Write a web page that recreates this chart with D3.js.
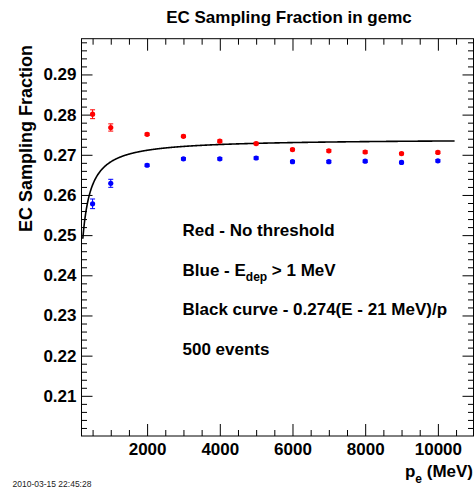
<!DOCTYPE html>
<html>
<head>
<meta charset="utf-8">
<script src="https://cdn.jsdelivr.net/npm/d3@7"></script>
<style>
  body { margin: 0; background: #fff; }
  svg { display: block; font-family: "Liberation Sans", Arial, sans-serif; font-weight: bold; }
</style>
</head>
<body>
<div id="chart"></div>
<script>
// momentum points (MeV)
const energies = [500, 1000, 2000, 3000, 4000, 5000, 6000, 7000, 8000, 9000, 10000];
// red: no threshold
const redValues = [0.2801, 0.2768, 0.2751, 0.2746, 0.2734, 0.2728, 0.2713, 0.2710, 0.2707, 0.2703, 0.2706];
const redErrors = [0.0011, 0.0009, 0.0003, 0.0003, 0.0003, 0.0003, 0.0003, 0.0003, 0.0003, 0.0003, 0.0003];
// blue: E_dep > 1 MeV
const blueValues = [0.2578, 0.2629, 0.2674, 0.2690, 0.2690, 0.2692, 0.2683, 0.2683, 0.2684, 0.2681, 0.2685];
const blueErrors = [0.0012, 0.0010, 0.0003, 0.0003, 0.0003, 0.0003, 0.0003, 0.0003, 0.0003, 0.0003, 0.0003];
// black curve parameters: 0.274 (E - 21) / E
const curveScale = 0.274;
const curveOffset = 21;
const curveRange = [231, 10460];

const xTicks = [2000, 4000, 6000, 8000, 10000];
const yTicks = [0.21, 0.22, 0.23, 0.24, 0.25, 0.26, 0.27, 0.28, 0.29];

const legendLines = ["Red - No threshold", "Blue - E|dep| > 1 MeV", "Black curve - 0.274(E - 21 MeV)/p", "500 events"];

const width = 475;
const height = 489;
const frame = { left: 81.5, right: 473.5, top: 38.7, bottom: 436 };

const svg = d3.select("#chart").append("svg")
  .attr("width", width)
  .attr("height", height);

const x = d3.scaleLinear().domain([195, 10980]).range([frame.left, frame.right]);
const y = d3.scaleLinear().domain([0.2, 0.2989]).range([frame.bottom, frame.top]);

const xMinor = d3.range(500, 10980, 500).filter(v => !xTicks.includes(v));
const yMinor = d3.range(0.202, 0.2989, 0.002).filter(v => !yTicks.some(t => Math.abs(t - v) < 1e-6));

function tickStyle(g) {
  g.select(".domain").remove();
  g.selectAll("line").attr("stroke", "#000").attr("stroke-width", 1);
}

// minor ticks first
svg.append("g").attr("transform", `translate(0,${frame.bottom})`)
  .call(d3.axisBottom(x).tickValues(xMinor).tickSize(-6).tickFormat(""))
  .call(tickStyle);
svg.append("g").attr("transform", `translate(0,${frame.top})`)
  .call(d3.axisTop(x).tickValues(xMinor).tickSize(-6).tickFormat(""))
  .call(tickStyle);
svg.append("g").attr("transform", `translate(${frame.left},0)`)
  .call(d3.axisLeft(y).tickValues(yMinor).tickSize(-5.5).tickFormat(""))
  .call(tickStyle);
svg.append("g").attr("transform", `translate(${frame.right},0)`)
  .call(d3.axisRight(y).tickValues(yMinor).tickSize(-5.5).tickFormat(""))
  .call(tickStyle);

// major ticks
svg.append("g").attr("transform", `translate(0,${frame.bottom})`)
  .call(d3.axisBottom(x).tickValues(xTicks).tickSize(-12).tickPadding(7).tickFormat(d3.format("d")))
  .call(tickStyle)
  .call(g => g.selectAll("text").attr("font-size", 17).attr("fill", "#000").attr("font-family", null));
svg.append("g").attr("transform", `translate(0,${frame.top})`)
  .call(d3.axisTop(x).tickValues(xTicks).tickSize(-12).tickFormat(""))
  .call(tickStyle);
svg.append("g").attr("transform", `translate(${frame.left},0)`)
  .call(d3.axisLeft(y).tickValues(yTicks).tickSize(-11).tickPadding(5).tickFormat(d3.format(".2f")))
  .call(tickStyle)
  .call(g => g.selectAll("text").attr("font-size", 17).attr("fill", "#000").attr("font-family", null));
svg.append("g").attr("transform", `translate(${frame.right},0)`)
  .call(d3.axisRight(y).tickValues(yTicks).tickSize(-11).tickFormat(""))
  .call(tickStyle);

// frame
svg.append("rect")
  .attr("x", frame.left).attr("y", frame.top)
  .attr("width", frame.right - frame.left).attr("height", frame.bottom - frame.top)
  .attr("fill", "none").attr("stroke", "#000").attr("stroke-width", 1);

// black curve
const curveE = d3.range(curveRange[0], curveRange[1], 10).concat([curveRange[1]]);
svg.append("path")
  .datum(curveE)
  .attr("fill", "none")
  .attr("stroke", "#000")
  .attr("stroke-width", 1.6)
  .attr("d", d3.line().x(e => x(e)).y(e => y(curveScale * (e - curveOffset) / e)));

function drawSeries(values, errors, color) {
  const data = energies.map((e, i) => ({ e, v: values[i], err: errors[i] }));
  const g = svg.append("g");
  g.selectAll("line.bar").data(data).join("line")
    .attr("x1", d => x(d.e)).attr("x2", d => x(d.e))
    .attr("y1", d => y(d.v - d.err)).attr("y2", d => y(d.v + d.err))
    .attr("stroke", color).attr("stroke-width", 1);
  g.selectAll("line.cap-hi").data(data).join("line")
    .attr("x1", d => x(d.e) - 2.5).attr("x2", d => x(d.e) + 2.5)
    .attr("y1", d => y(d.v + d.err)).attr("y2", d => y(d.v + d.err))
    .attr("stroke", color).attr("stroke-width", 1);
  g.selectAll("line.cap-lo").data(data).join("line")
    .attr("x1", d => x(d.e) - 2.5).attr("x2", d => x(d.e) + 2.5)
    .attr("y1", d => y(d.v - d.err)).attr("y2", d => y(d.v - d.err))
    .attr("stroke", color).attr("stroke-width", 1);
  g.selectAll("circle").data(data).join("circle")
    .attr("cx", d => x(d.e)).attr("cy", d => y(d.v))
    .attr("r", 2.6).attr("fill", color);
}
drawSeries(redValues, redErrors, "#ff0000");
drawSeries(blueValues, blueErrors, "#0000ff");

// legend text
const legend = svg.append("g").attr("font-size", 17);
legendLines.forEach((line, i) => {
  const t = legend.append("text")
    .attr("x", 182.5)
    .attr("y", 236 + i * 39.7);
  const parts = line.split("|");
  t.append("tspan").text(parts[0]);
  if (parts.length > 1) {
    t.append("tspan").attr("font-size", 12).attr("dy", 5).text(parts[1]);
    t.append("tspan").attr("dy", -5).text(parts[2]);
  }
});

// title
svg.append("text")
  .attr("x", 289).attr("y", 22.5)
  .attr("text-anchor", "middle")
  .attr("font-size", 17)
  .text("EC Sampling Fraction in gemc");

// y axis title
svg.append("text")
  .attr("transform", "translate(31.5,232) rotate(-90)")
  .attr("font-size", 18)
  .text("EC Sampling Fraction");

// x axis title
const xt = svg.append("text")
  .attr("x", 473).attr("y", 476.5)
  .attr("text-anchor", "end")
  .attr("font-size", 17);
xt.append("tspan").text("p");
xt.append("tspan").attr("font-size", 12).attr("dy", 6).text("e");
xt.append("tspan").attr("dy", -6).text(" (MeV)");

// date stamp
svg.append("text")
  .attr("x", 12.5).attr("y", 487)
  .attr("font-size", 8.5)
  .attr("font-weight", "normal")
  .attr("fill", "#222")
  .text("2010-03-15 22:45:28");
</script>
</body>
</html>
